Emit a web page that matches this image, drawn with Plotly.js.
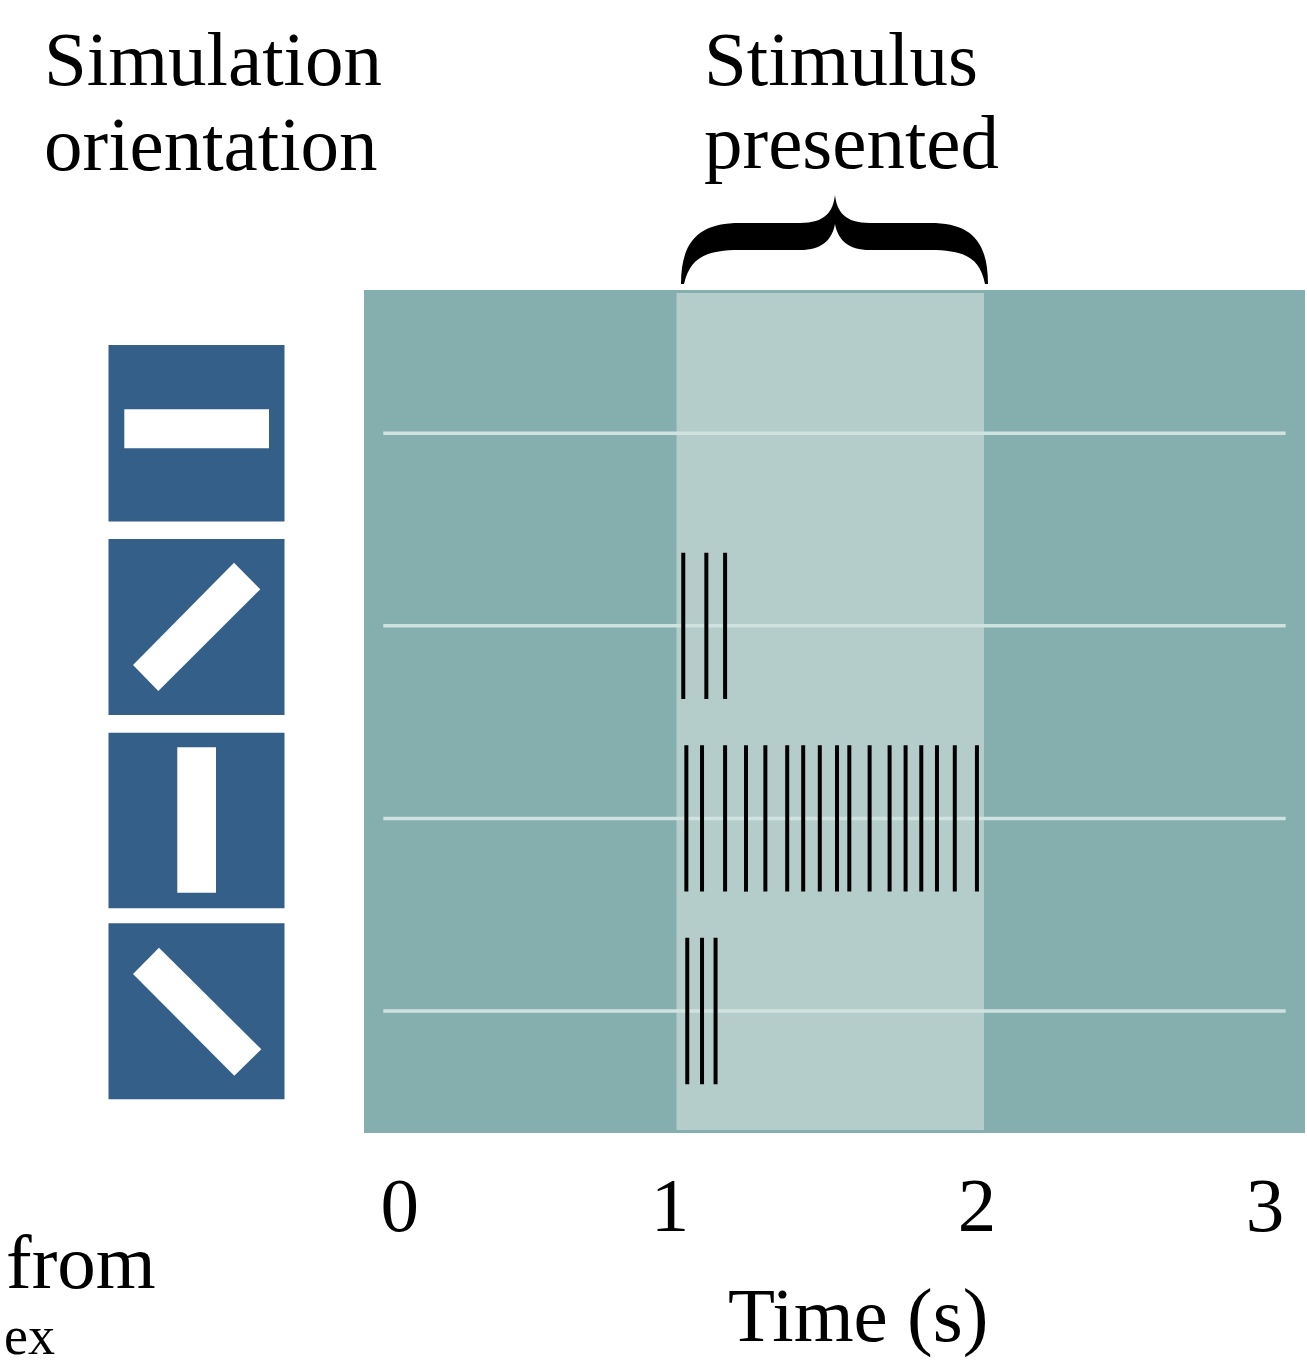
<!DOCTYPE html>
<html>
<head>
<meta charset="utf-8">
<script src="https://cdn.plot.ly/plotly-3.0.1.min.js"></script>
<style>html,body{margin:0;padding:0;background:#fff;}#chart{width:1307px;height:1369px;}</style>
</head>
<body>
<div id="chart"></div>
<script>
// ---- data ----
const orientations = ["horizontal", "diagonal 45°", "vertical", "diagonal 135°"];
const rowLevels = [4, 3, 2, 1];
const spikesHorizontal = [];
const spikesDiag45 = [1.022, 1.097, 1.158];
const spikesVertical = [1.032, 1.083, 1.158, 1.226, 1.289, 1.360, 1.412, 1.466, 1.522, 1.562,
                        1.628, 1.693, 1.745, 1.796, 1.847, 1.905, 1.977];
const spikesDiag135 = [1.035, 1.083, 1.127];
const spikeTrains = [spikesHorizontal, spikesDiag45, spikesVertical, spikesDiag135];
const stimulusOn = 1, stimulusOff = 2;
const tickLabels = ["0", "1", "2", "3"];
const tickPositions = [0.100, 0.979, 1.977, 2.914];

// ---- geometry helpers (pixel -> paper) ----
const W = 1307, H = 1369, L = 364, R = 1305, T = 290, B = 1133;
const px = x => (x - L) / (R - L);
const py = y => (B - y) / (B - T);
const FONT = '"Liberation Serif", "Times New Roman", serif';
const FS = 77;
const TEAL = '#85aeae', LIGHT = '#b4cdcb', BLUE = '#335f88', LINE = '#d0e2e0';

function polyPath(pts) {
  return pts.map((p, i) => (i ? 'L' : 'M') + px(p[0]).toFixed(5) + ',' + py(p[1]).toFixed(5)).join(' ') + ' Z';
}

// ---- traces ----
const traces = spikeTrains.map((train, i) => {
  const xs = [], ys = [];
  train.forEach(t => { xs.push(t, t, null); ys.push(rowLevels[i] - 0.38, rowLevels[i] + 0.38, null); });
  return { type: 'scatter', mode: 'lines', x: xs, y: ys, name: orientations[i],
           line: { color: '#000', width: 4 }, hoverinfo: 'skip', showlegend: false };
});

// ---- shapes ----
const shapes = [];
shapes.push({ type: 'rect', xref: 'x', yref: 'paper', x0: stimulusOn, x1: stimulusOff,
              y0: 3 / (B - T), y1: 1 - 3 / (B - T), fillcolor: LIGHT, line: { width: 0 }, layer: 'below' });
rowLevels.forEach(r => shapes.push({ type: 'line', xref: 'x', yref: 'y', x0: 0.0465, x1: 2.981, y0: r, y1: r,
  line: { color: LINE, width: 3.5 }, layer: 'below' }));

// icon squares
[[345, 521.5], [539, 715], [732.7, 908.3], [923.3, 1099.3]].forEach(s => shapes.push({
  type: 'rect', xref: 'paper', yref: 'paper', x0: px(108.5), x1: px(284.5), y0: py(s[1]), y1: py(s[0]),
  fillcolor: BLUE, line: { width: 0 } }));
// white bars
const bars = [
  [[124.3, 409.3], [269, 409.3], [269, 448.3], [124.3, 448.3]],
  [[234, 562.7], [260.3, 589.3], [158.3, 691], [133, 665]],
  [[177.3, 747.3], [216, 747.3], [216, 892.7], [177.3, 892.7]],
  [[159, 947.7], [133, 974], [234.3, 1075.7], [261.3, 1049.3]]
];
bars.forEach(b => shapes.push({ type: 'path', xref: 'paper', yref: 'paper', path: polyPath(b),
  fillcolor: '#fff', line: { width: 0 } }));

// curly brace
const P = (x, y) => px(x).toFixed(5) + ',' + py(y).toFixed(5);
const bracePath =
  'M' + P(681, 284) +
  ' C' + P(681, 240) + ' ' + P(700, 223) + ' ' + P(740, 223) +
  ' L' + P(800, 223) +
  ' C' + P(825, 223) + ' ' + P(833, 212) + ' ' + P(835, 195) +
  ' C' + P(837, 212) + ' ' + P(845, 223) + ' ' + P(870, 223) +
  ' L' + P(930, 223) +
  ' C' + P(970, 223) + ' ' + P(988, 240) + ' ' + P(988, 284) +
  ' L' + P(985, 284) +
  ' C' + P(980, 258) + ' ' + P(965, 250) + ' ' + P(930, 250) +
  ' L' + P(870, 250) +
  ' C' + P(848, 250) + ' ' + P(838, 240) + ' ' + P(835, 224) +
  ' C' + P(832, 240) + ' ' + P(822, 250) + ' ' + P(800, 250) +
  ' L' + P(740, 250) +
  ' C' + P(705, 250) + ' ' + P(690, 258) + ' ' + P(684, 284) + ' Z';
shapes.push({ type: 'path', xref: 'paper', yref: 'paper', path: bracePath, fillcolor: '#000', line: { width: 0 } });

// ---- annotations ----
function txt(text, x, y, xanchor, size) {
  return { text: text, xref: 'paper', yref: 'paper', x: px(x), y: py(y), xanchor: xanchor || 'left',
           yanchor: 'middle', showarrow: false, font: { family: FONT, size: size || FS, color: '#000' } };
}
const annotations = [
  txt('Simulation', 42, 59),
  txt('orientation', 42, 144),
  txt('Stimulus', 702, 59),
  txt('presented', 702, 142),
  txt('Time (s)', 858, 1315, 'center'),
  txt('from', 4, 1262),
  txt('ex', 2, 1336, 'left', 54)
];

const layout = {
  width: W, height: H,
  margin: { l: L, r: W - R, t: T, b: H - B, pad: 0 },
  paper_bgcolor: '#fff', plot_bgcolor: TEAL,
  showlegend: false,
  xaxis: { range: [-0.0163, 3.0439], showgrid: false, zeroline: false, showline: false,
           tickmode: 'array', tickvals: tickPositions, ticktext: tickLabels, ticks: '',
           ticklabelstandoff: 20, tickfont: { family: FONT, size: FS, color: '#000' }, fixedrange: true },
  yaxis: { range: [0.3666, 4.744], showgrid: false, zeroline: false, showline: false,
           showticklabels: false, ticks: '', fixedrange: true },
  shapes: shapes,
  annotations: annotations
};

Plotly.newPlot('chart', traces, layout, { staticPlot: true, displayModeBar: false });
</script>
</body>
</html>
